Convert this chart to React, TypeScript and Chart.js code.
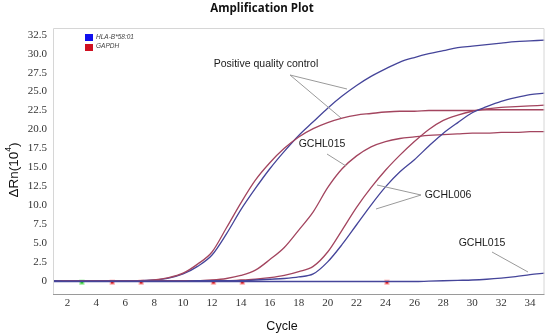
import React, { useEffect, useRef } from "react";
import { Chart, registerables } from "chart.js";

Chart.register(...registerables);

const CYCLES = [1,2,3,4,5,6,7,8,9,10,11,12,13,14,15,16,17,18,19,20,21,22,23,24,25,26,27,28,29,30,31,32,33,34,35];

const PC_HLA = [0,0,0,0,0,0,0,0.1,0.35,0.9,1.9,3.4,6.2,9.4,12.2,14.8,17.1,19.2,21.0,22.8,24.4,25.8,27.0,28.0,28.9,29.5,30.0,30.4,30.8,31.0,31.2,31.4,31.6,31.7,31.8];
const PC_GAPDH = [0,0,0,0,0,0,0,0.1,0.4,1.0,2.2,3.8,7.0,10.3,13.3,15.6,17.5,19.0,20.1,20.9,21.5,21.9,22.1,22.3,22.4,22.4,22.5,22.5,22.5,22.5,22.6,22.6,22.6,22.6,22.6];
const GCHL015_GAPDH = [0,0,0,0,0,0,0,0,0,0,0,0.1,0.3,0.7,1.4,2.8,4.4,6.7,9.1,12.3,14.8,16.5,17.7,18.4,18.8,19.0,19.2,19.3,19.4,19.5,19.5,19.6,19.6,19.7,19.7];
const GCHL006_GAPDH = [0,0,0,0,0,0,0,0,0,0,0,0,0,0.1,0.2,0.4,0.7,1.2,1.9,3.8,6.7,9.7,12.3,14.6,16.6,18.4,20.0,21.2,21.9,22.4,22.7,22.9,23.0,23.1,23.2];
const GCHL006_HLA = [0,-0.05,-0.05,-0.05,-0.05,-0.05,-0.05,-0.05,-0.05,-0.05,0,0,0,0,0.1,0.2,0.3,0.5,0.9,2.5,4.8,7.4,10.0,12.4,14.4,16.0,17.8,19.5,20.9,22.2,23.0,23.7,24.2,24.6,24.8];
const GCHL015_HLA = [-0.1,-0.1,-0.1,-0.1,-0.1,-0.1,-0.1,-0.1,-0.1,-0.1,-0.1,-0.1,-0.1,-0.1,-0.1,-0.1,-0.1,-0.1,-0.1,-0.1,-0.1,-0.1,-0.1,-0.1,-0.1,-0.1,-0.05,0,0.05,0.1,0.2,0.35,0.55,0.8,1.0];

const MARKER_X = [3, 5.1, 7.1, 12.1, 14.1, 24.1];
const MARKER_Y = [-0.2, -0.2, -0.2, -0.2, -0.2, -0.2];
const MARKER_KIND = ["green", "red", "red", "red", "red", "red"];

const X_TICKS = [2,4,6,8,10,12,14,16,18,20,22,24,26,28,30,32,34];
const Y_TICKS = [0,2.5,5,7.5,10,12.5,15,17.5,20,22.5,25,27.5,30,32.5];

const LEGEND_LABELS = ["HLA-B*58:01", "GAPDH"];
const TITLE = "Amplification Plot";
const X_TITLE = "Cycle";
const Y_TITLE = "ΔRn(10";
const Y_TITLE_SUP = "4";
const Y_TITLE_END = ")";

const BLUE = "#45459a";
const RED = "#a3455f";

const toXY = (vals: number[]) => CYCLES.map((c, i) => ({ x: c, y: vals[i] }));

export default function App() {
  const ref = useRef<HTMLCanvasElement | null>(null);
  useEffect(() => {
    if (!ref.current) return;
    const lineDs = (vals: number[], color: string) => ({
      type: "line" as const,
      data: toXY(vals),
      borderColor: color,
      borderWidth: 1.3,
      pointRadius: 0,
      fill: false,
      cubicInterpolationMode: "monotone" as const,
    });

    const overlay = {
      id: "overlay",
      afterDraw(chart: any) {
        const ctx = chart.ctx as CanvasRenderingContext2D;
        const a = chart.chartArea;
        ctx.save();
        // frame
        ctx.strokeStyle = "#d6d6d6";
        ctx.lineWidth = 1;
        ctx.beginPath();
        ctx.moveTo(a.left + 0.5, a.bottom);
        ctx.lineTo(a.left + 0.5, a.top + 0.5);
        ctx.lineTo(a.right - 0.5, a.top + 0.5);
        ctx.lineTo(a.right - 0.5, a.bottom);
        ctx.stroke();
        ctx.strokeStyle = "#9a9a9a";
        ctx.beginPath();
        ctx.moveTo(a.left, a.bottom + 0.5);
        ctx.lineTo(a.right, a.bottom + 0.5);
        ctx.stroke();

        // title
        ctx.fillStyle = "#111";
        ctx.textAlign = "center";
        ctx.textBaseline = "middle";
        ctx.font = "bold 11.5px 'Open Sans'";
        ctx.fillText(TITLE, 262, 9);

        // x title
        ctx.font = "12.5px 'Liberation Sans'";
        ctx.fillText(X_TITLE, 282, 327);

        // y title rotated
        ctx.save();
        ctx.translate(14, 170);
        ctx.rotate(-Math.PI / 2);
        ctx.font = "13.5px 'Liberation Sans'";
        const w1 = ctx.measureText(Y_TITLE).width;
        ctx.font = "8.5px 'Liberation Sans'";
        const w2 = ctx.measureText(Y_TITLE_SUP).width;
        ctx.font = "13.5px 'Liberation Sans'";
        const w3 = ctx.measureText(Y_TITLE_END).width;
        const total = w1 + w2 + w3;
        let sx = -total / 2;
        ctx.textAlign = "left";
        ctx.fillText(Y_TITLE, sx, 0);
        sx += w1;
        ctx.font = "8.5px 'Liberation Sans'";
        ctx.fillText(Y_TITLE_SUP, sx, -5);
        sx += w2;
        ctx.font = "13.5px 'Liberation Sans'";
        ctx.fillText(Y_TITLE_END, sx, 0);
        ctx.restore();

        // legend
        ctx.fillStyle = "#1010ee";
        ctx.fillRect(85, 34, 8, 7);
        ctx.fillStyle = "#d01020";
        ctx.fillRect(85, 44, 8, 7);
        ctx.fillStyle = "#444";
        ctx.textAlign = "left";
        ctx.font = "italic 6.5px 'Liberation Sans'";
        ctx.fillText(LEGEND_LABELS[0], 96, 37.5);
        ctx.fillText(LEGEND_LABELS[1], 96, 46.5);

        // annotations
        ctx.strokeStyle = "#9a9a9a";
        ctx.lineWidth = 1;
        const seg = (x1: number, y1: number, x2: number, y2: number) => {
          ctx.beginPath();
          ctx.moveTo(x1, y1);
          ctx.lineTo(x2, y2);
          ctx.stroke();
        };
        seg(290, 75, 347, 89);
        seg(290, 75, 341, 118);
        seg(327, 154, 346, 166);
        seg(421, 195, 377, 185);
        seg(421, 195, 376, 209);
        seg(492, 252, 528, 272);

        ctx.fillStyle = "#1a1a1a";
        ctx.font = "10.5px 'Liberation Sans'";
        ctx.textAlign = "center";
        ctx.fillText("Positive quality control", 266, 64);
        ctx.fillText("GCHL015", 322, 144);
        ctx.fillText("GCHL006", 448, 195);
        ctx.fillText("GCHL015", 482, 243);
        ctx.restore();
      },
    };

    const chart = new Chart(ref.current, {
      type: "line",
      data: {
        datasets: [
          lineDs(GCHL015_HLA, BLUE),
          lineDs(GCHL006_HLA, BLUE),
          lineDs(GCHL006_GAPDH, RED),
          lineDs(GCHL015_GAPDH, RED),
          lineDs(PC_GAPDH, RED),
          lineDs(PC_HLA, BLUE),
          {
            type: "scatter" as const,
            data: MARKER_X.map((x, i) => ({ x, y: MARKER_Y[i] })),
            pointStyle: "rect",
            pointRadius: 2.8,
            borderWidth: 1.5,
            backgroundColor: MARKER_KIND.map((k) => (k === "green" ? "#22cc22" : "#e01010")),
            borderColor: MARKER_KIND.map((k) => (k === "green" ? "rgba(170,240,170,0.8)" : "rgba(255,190,190,0.8)")),
          } as any,
        ],
      },
      options: {
        animation: false,
        responsive: false,
        maintainAspectRatio: false,
        layout: { padding: { left: 0, right: 5, top: 28, bottom: 0 } },
        plugins: { legend: { display: false }, tooltip: { enabled: false }, title: { display: false } },
        scales: {
          x: {
            type: "linear",
            min: 1,
            max: 35,
            grid: { display: false, drawTicks: false, tickLength: 0 },
            border: { display: false },
            afterFit: (s: any) => { s.height = 42; },
            afterBuildTicks: (s: any) => { s.ticks = X_TICKS.map((v) => ({ value: v })); },
            ticks: {
              autoSkip: false,
              maxRotation: 0,
              padding: 3,
              color: "#333",
              font: { family: "'Liberation Serif'", size: 11 },
              callback: (v: any) => String(v),
            },
          },
          y: {
            type: "linear",
            min: -1.75,
            max: 33.4,
            grid: { display: false, drawTicks: false, tickLength: 0 },
            border: { display: false },
            afterFit: (s: any) => { s.width = 53; },
            afterBuildTicks: (s: any) => { s.ticks = Y_TICKS.map((v) => ({ value: v })); },
            ticks: {
              autoSkip: false,
              padding: 6,
              color: "#333",
              font: { family: "'Liberation Serif'", size: 11 },
              callback: (v: any) => (v === 0 ? "0" : Number(v).toFixed(1)),
            },
          },
        },
      },
      plugins: [overlay],
    } as any);
    return () => chart.destroy();
  }, []);

  return (
    <div style={{ position: "fixed", left: 0, top: 0, width: 550, height: 336, background: "#fff" }}>
      <canvas ref={ref} width={550} height={336} style={{ width: 550, height: 336, display: "block" }} />
    </div>
  );
}
